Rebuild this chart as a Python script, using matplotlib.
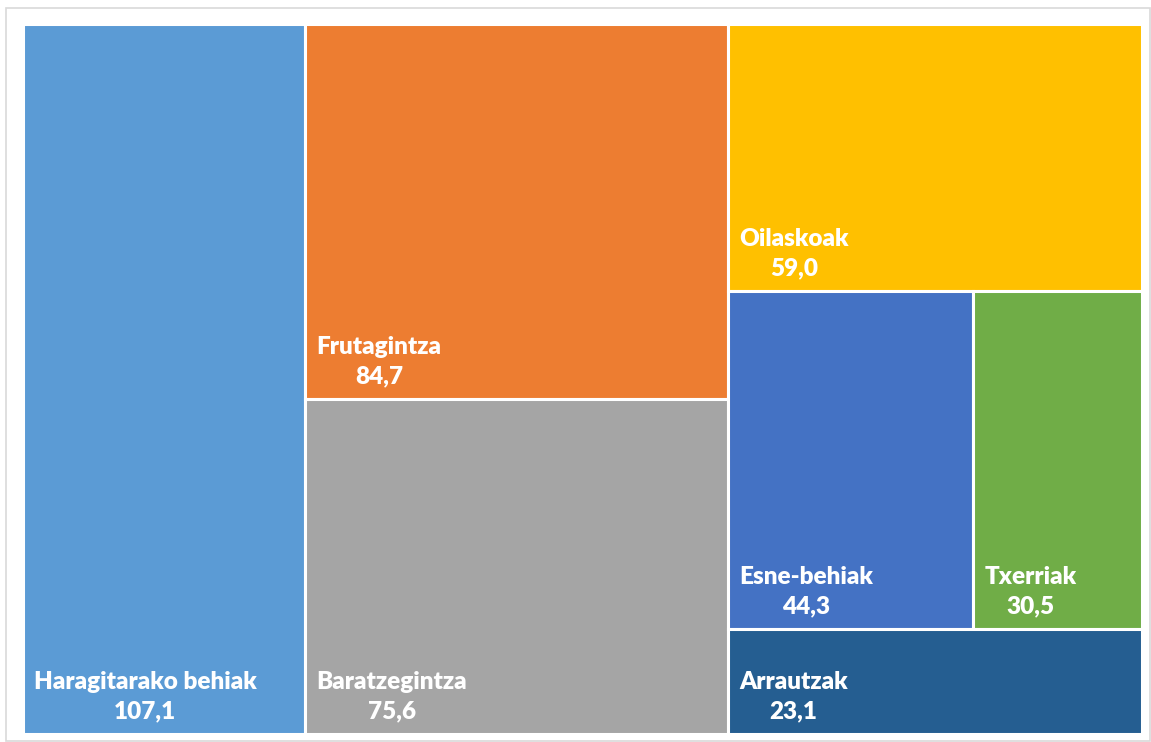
import matplotlib.pyplot as plt
from matplotlib.patches import Rectangle

# Ekoizpen-balioa sektoreka
labels = ['Haragitarako behiak', 'Frutagintza', 'Baratzegintza', 'Oilaskoak',
          'Esne-behiak', 'Txerriak', 'Arrautzak']
values = [107.1, 84.7, 75.6, 59.0, 44.3, 30.5, 23.1]
colors = ['#5B9BD5', '#ED7D31', '#A5A5A5', '#FFC000', '#4472C4', '#70AD47', '#255E91']

# zutabeak -> errenkadak -> elementuak (indizeak)
columns = [[[0]], [[1], [2]], [[3], [4, 5], [6]]]

W, H = 1151, 742
X0, X1, Y0, Y1 = 23, 1142, 24, 734

fig = plt.figure(figsize=(W / 100, H / 100), dpi=100)
ax = fig.add_axes([0, 0, 1, 1])
ax.set_xlim(0, W)
ax.set_ylim(H, 0)
ax.axis('off')

# kanpoko markoa
ax.add_patch(Rectangle((6.5, 7.5), W - 7, H - 9, fill=False, edgecolor='#D9D9D9', lw=1.2))

total = sum(values)
x = X0
for col in columns:
    col_sum = sum(values[i] for row in col for i in row)
    cw = (X1 - X0) * col_sum / total
    y = Y0
    for row in col:
        row_sum = sum(values[i] for i in row)
        rh = (Y1 - Y0) * row_sum / col_sum
        xx = x
        for i in row:
            w = cw * values[i] / row_sum
            ax.add_patch(Rectangle((xx, y), w, rh, facecolor=colors[i],
                                   edgecolor='white', lw=2.2))
            txt = labels[i] + '\n' + f'{values[i]:.1f}'.replace('.', ',')
            ax.text(xx + 11, y + rh - 12, txt, ha='left', va='bottom',
                    multialignment='center', color='white', fontsize=17.5,
                    fontweight='heavy', family='Lato', linespacing=1.4)
            xx += w
        y += rh
    x += cw

fig.savefig('out.png', dpi=100)
